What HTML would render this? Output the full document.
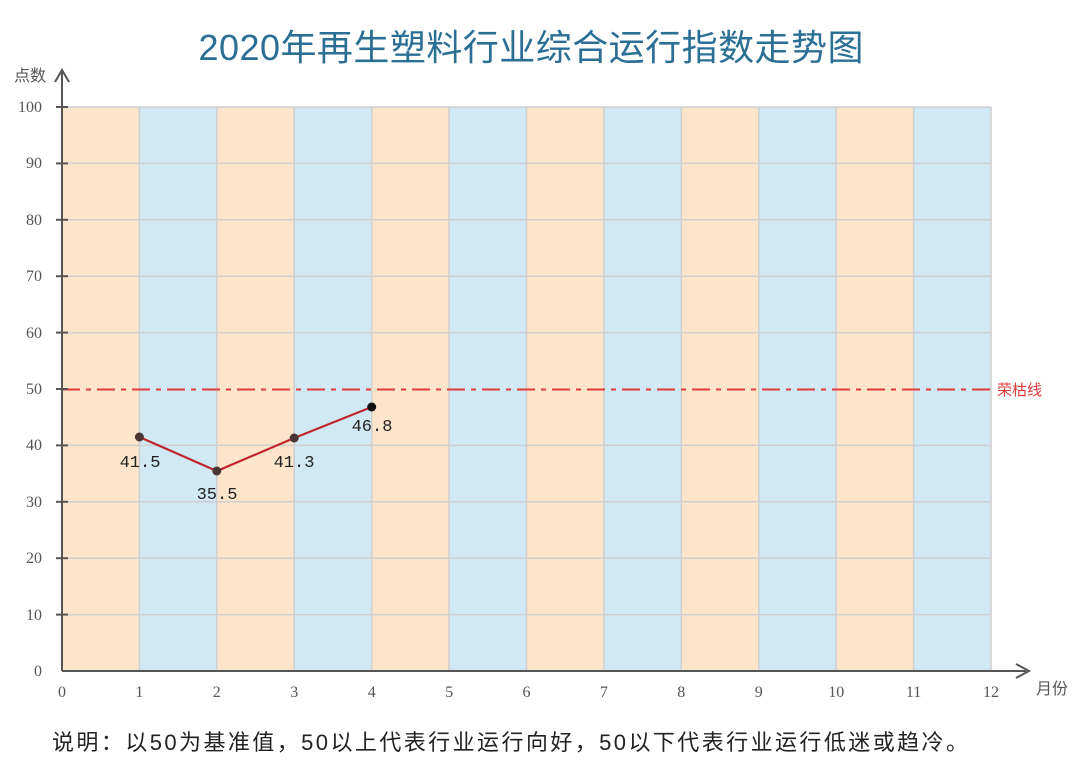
<!DOCTYPE html>
<html><head><meta charset="utf-8"><style>body{margin:0;background:#fff}svg{display:block}</style></head><body>
<svg width="1080" height="781" xmlns="http://www.w3.org/2000/svg" font-family="'Liberation Serif','Noto Serif CJK SC',serif">
<rect width="1080" height="781" fill="#fff"/>
<text x="531" y="60" text-anchor="middle" font-size="36" fill="#2b6f95" textLength="665" lengthAdjust="spacing" font-family="'Liberation Sans','Noto Sans CJK SC',sans-serif">2020年再生塑料行业综合运行指数走势图</text>
<g id="bands">
<rect x="62" y="107" width="77.4" height="564" fill="#fde5cb"/>
<rect x="139.4" y="107" width="77.4" height="564" fill="#d0e9f4"/>
<rect x="216.8" y="107" width="77.4" height="564" fill="#fde5cb"/>
<rect x="294.2" y="107" width="77.4" height="564" fill="#d0e9f4"/>
<rect x="371.7" y="107" width="77.4" height="564" fill="#fde5cb"/>
<rect x="449.1" y="107" width="77.4" height="564" fill="#d0e9f4"/>
<rect x="526.5" y="107" width="77.4" height="564" fill="#fde5cb"/>
<rect x="603.9" y="107" width="77.4" height="564" fill="#d0e9f4"/>
<rect x="681.3" y="107" width="77.4" height="564" fill="#fde5cb"/>
<rect x="758.8" y="107" width="77.4" height="564" fill="#d0e9f4"/>
<rect x="836.2" y="107" width="77.4" height="564" fill="#fde5cb"/>
<rect x="913.6" y="107" width="77.4" height="564" fill="#d0e9f4"/>
</g>
<g stroke="#cfcfcf" stroke-width="1.5">
<line x1="62" x2="991" y1="107" y2="107"/><line x1="62" x2="991" y1="163.4" y2="163.4"/><line x1="62" x2="991" y1="219.8" y2="219.8"/><line x1="62" x2="991" y1="276.2" y2="276.2"/><line x1="62" x2="991" y1="332.6" y2="332.6"/><line x1="62" x2="991" y1="445.4" y2="445.4"/><line x1="62" x2="991" y1="501.8" y2="501.8"/><line x1="62" x2="991" y1="558.2" y2="558.2"/><line x1="62" x2="991" y1="614.6" y2="614.6"/>
<line x1="139.4" x2="139.4" y1="107" y2="671"/><line x1="216.8" x2="216.8" y1="107" y2="671"/><line x1="294.2" x2="294.2" y1="107" y2="671"/><line x1="371.7" x2="371.7" y1="107" y2="671"/><line x1="449.1" x2="449.1" y1="107" y2="671"/><line x1="526.5" x2="526.5" y1="107" y2="671"/><line x1="603.9" x2="603.9" y1="107" y2="671"/><line x1="681.3" x2="681.3" y1="107" y2="671"/><line x1="758.8" x2="758.8" y1="107" y2="671"/><line x1="836.2" x2="836.2" y1="107" y2="671"/><line x1="913.6" x2="913.6" y1="107" y2="671"/><line x1="991" x2="991" y1="107" y2="671"/>
</g>
<line x1="62" x2="991" y1="389.5" y2="389.5" stroke="#e03a3a" stroke-width="2" stroke-dasharray="18,6,5,6"/>
<text x="997" y="395" font-size="15" fill="#e03a3a" font-family="'Liberation Sans','Noto Sans CJK SC',sans-serif">荣枯线</text>
<g stroke="#555" stroke-width="2" fill="none">
<line x1="62" y1="72" x2="62" y2="671"/><line x1="62" y1="671" x2="1026" y2="671"/>
<polyline points="55,82 62,70 69,82"/><polyline points="1016,664 1029,671 1016,678"/>
</g>
<g stroke="#555" stroke-width="2">
<line x1="56" x2="68" y1="107" y2="107"/><line x1="56" x2="68" y1="163.4" y2="163.4"/><line x1="56" x2="68" y1="219.8" y2="219.8"/><line x1="56" x2="68" y1="276.2" y2="276.2"/><line x1="56" x2="68" y1="332.6" y2="332.6"/><line x1="56" x2="68" y1="389" y2="389"/><line x1="56" x2="68" y1="445.4" y2="445.4"/><line x1="56" x2="68" y1="501.8" y2="501.8"/><line x1="56" x2="68" y1="558.2" y2="558.2"/><line x1="56" x2="68" y1="614.6" y2="614.6"/>
</g>
<g font-size="16" fill="#555" text-anchor="end">
<text x="42" y="112">100</text><text x="42" y="168">90</text><text x="42" y="225">80</text><text x="42" y="281">70</text><text x="42" y="338">60</text><text x="42" y="394">50</text><text x="42" y="450">40</text><text x="42" y="507">30</text><text x="42" y="563">20</text><text x="42" y="620">10</text><text x="42" y="676">0</text>
</g>
<text x="14" y="81" font-size="16" fill="#555" font-family="'Liberation Sans','Noto Sans CJK SC',sans-serif">点数</text>
<g font-size="16" fill="#555" text-anchor="middle">
<text x="62" y="697">0</text><text x="139.4" y="697">1</text><text x="216.8" y="697">2</text><text x="294.2" y="697">3</text><text x="371.7" y="697">4</text><text x="449.1" y="697">5</text><text x="526.5" y="697">6</text><text x="603.9" y="697">7</text><text x="681.3" y="697">8</text><text x="758.8" y="697">9</text><text x="836.2" y="697">10</text><text x="913.6" y="697">11</text><text x="991" y="697">12</text>
</g>
<text x="1036" y="694" font-size="16" fill="#555" font-family="'Liberation Sans','Noto Sans CJK SC',sans-serif">月份</text>
<polyline points="139.4,437 216.8,471 294.2,438 371.7,407" fill="none" stroke="#c0272d" stroke-width="2.2"/>
<g fill="#4a3535"><circle cx="139.4" cy="437" r="4.5"/><circle cx="216.8" cy="471" r="4.5"/><circle cx="294.2" cy="438" r="4.5"/><circle cx="371.7" cy="407" r="4.5" fill="#111"/></g>
<g font-size="17" fill="#222" text-anchor="middle" font-family="'Liberation Mono',monospace">
<text x="140" y="467">41.5</text><text x="217" y="499">35.5</text><text x="294" y="467">41.3</text><text x="372" y="431">46.8</text>
</g>
<text x="52" y="750" font-size="22" fill="#222" textLength="916" lengthAdjust="spacing" font-family="'Liberation Sans','Noto Sans CJK SC',sans-serif">说明：以50为基准值，50以上代表行业运行向好，50以下代表行业运行低迷或趋冷。</text>
</svg>
</body></html>
